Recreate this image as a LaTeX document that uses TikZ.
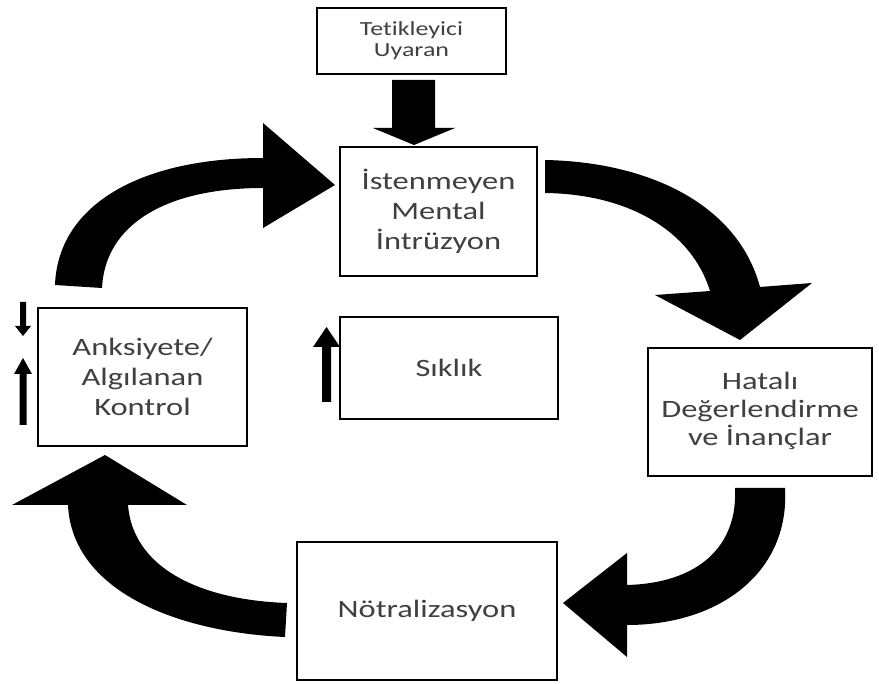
\documentclass[tikz,border=0pt]{standalone}
\usepackage{fontspec}
\setmainfont{Carlito}[FakeStretch=1.3,Ligatures=NoCommon]
\usetikzlibrary{calc}
\definecolor{txt}{RGB}{64,64,64}
\begin{document}
\begin{tikzpicture}[x=1pt,y=-1pt,
  box/.style={draw=black, line width=2.8pt, fill=white, inner sep=0pt, align=center, text=txt, font=\fontsize{25}{30}\selectfont},
  blk/.style={fill=black}]
\useasboundingbox[fill=white] (0,0) rectangle (879,684);
% boxes
\node[box, minimum width=189pt, minimum height=66pt, line width=2.4pt, font=\fontsize{20}{21}\selectfont] (trig) at (411.5,41) {Tetikleyici\\Uyaran};
\node[box, minimum width=197pt, minimum height=129pt] (intr) at (438.5,211.5) {İstenmeyen\\Mental\\İntrüzyon};
\node[box, minimum width=209pt, minimum height=138pt] (anx) at (142.5,377) {Anksiyete/\\Algılanan\\Kontrol};
\node[box, minimum width=218pt, minimum height=102pt] (freq) at (449,368) {\raisebox{-3pt}{Sıklık}};
\node[box, minimum width=224pt, minimum height=128pt, font=\fontsize{25}{28}\selectfont] (hat) at (760,412) {\raisebox{-7pt}{\begin{tabular}{@{}c@{}}Hatalı\\Değerlendirme\\ve İnançlar\end{tabular}}};
\node[box, minimum width=260pt, minimum height=138pt] (neut) at (427,611) {Nötralizasyon};
% straight block arrow trigger -> intrusion
\fill[blk] (392,80) -- (435,80) -- (435,128) -- (455,128) -- (414,145) -- (373,128) -- (392,128) -- cycle;
% small arrows
\fill[blk] (20,302) -- (26,302) -- (26,326) -- (31,326) -- (23,336) -- (15,326) -- (20,326) -- cycle;
\fill[blk] (19.5,425) -- (26.5,425) -- (26.5,374) -- (32,374) -- (23,358) -- (14,374) -- (19.5,374) -- cycle;
\fill[blk] (322,402) -- (331,402) -- (331,347) -- (340,347) -- (326.5,327) -- (313,347) -- (322,347) -- cycle;
% curved arrows
\fill[blk] (55,285) .. controls (58,205) and (140,158) .. (263,158) -- (263,123) -- (335,185) -- (263,228) -- (263,188) .. controls (165,188) and (105,225) .. (102,288) -- cycle;
\fill[blk] (545,160) .. controls (650,162) and (738,205) .. (760,287) -- (812,283) -- (740,340) -- (655,295) -- (710,291) .. controls (692,232) and (630,194) .. (545,193) -- cycle;
\fill[blk] (785,488) .. controls (790,572) and (720,625) .. (627,625) -- (627,657) -- (563,603) -- (627,553) -- (627,585) .. controls (700,583) and (738,545) .. (735,488) -- cycle;
\fill[blk] (287,603) -- (285,637) .. controls (175,632) and (72,590) .. (68,505) -- (12,505) -- (105,455) -- (187,505) -- (128,505) .. controls (133,568) and (200,600) .. (287,603) -- cycle;
\end{tikzpicture}
\end{document}
